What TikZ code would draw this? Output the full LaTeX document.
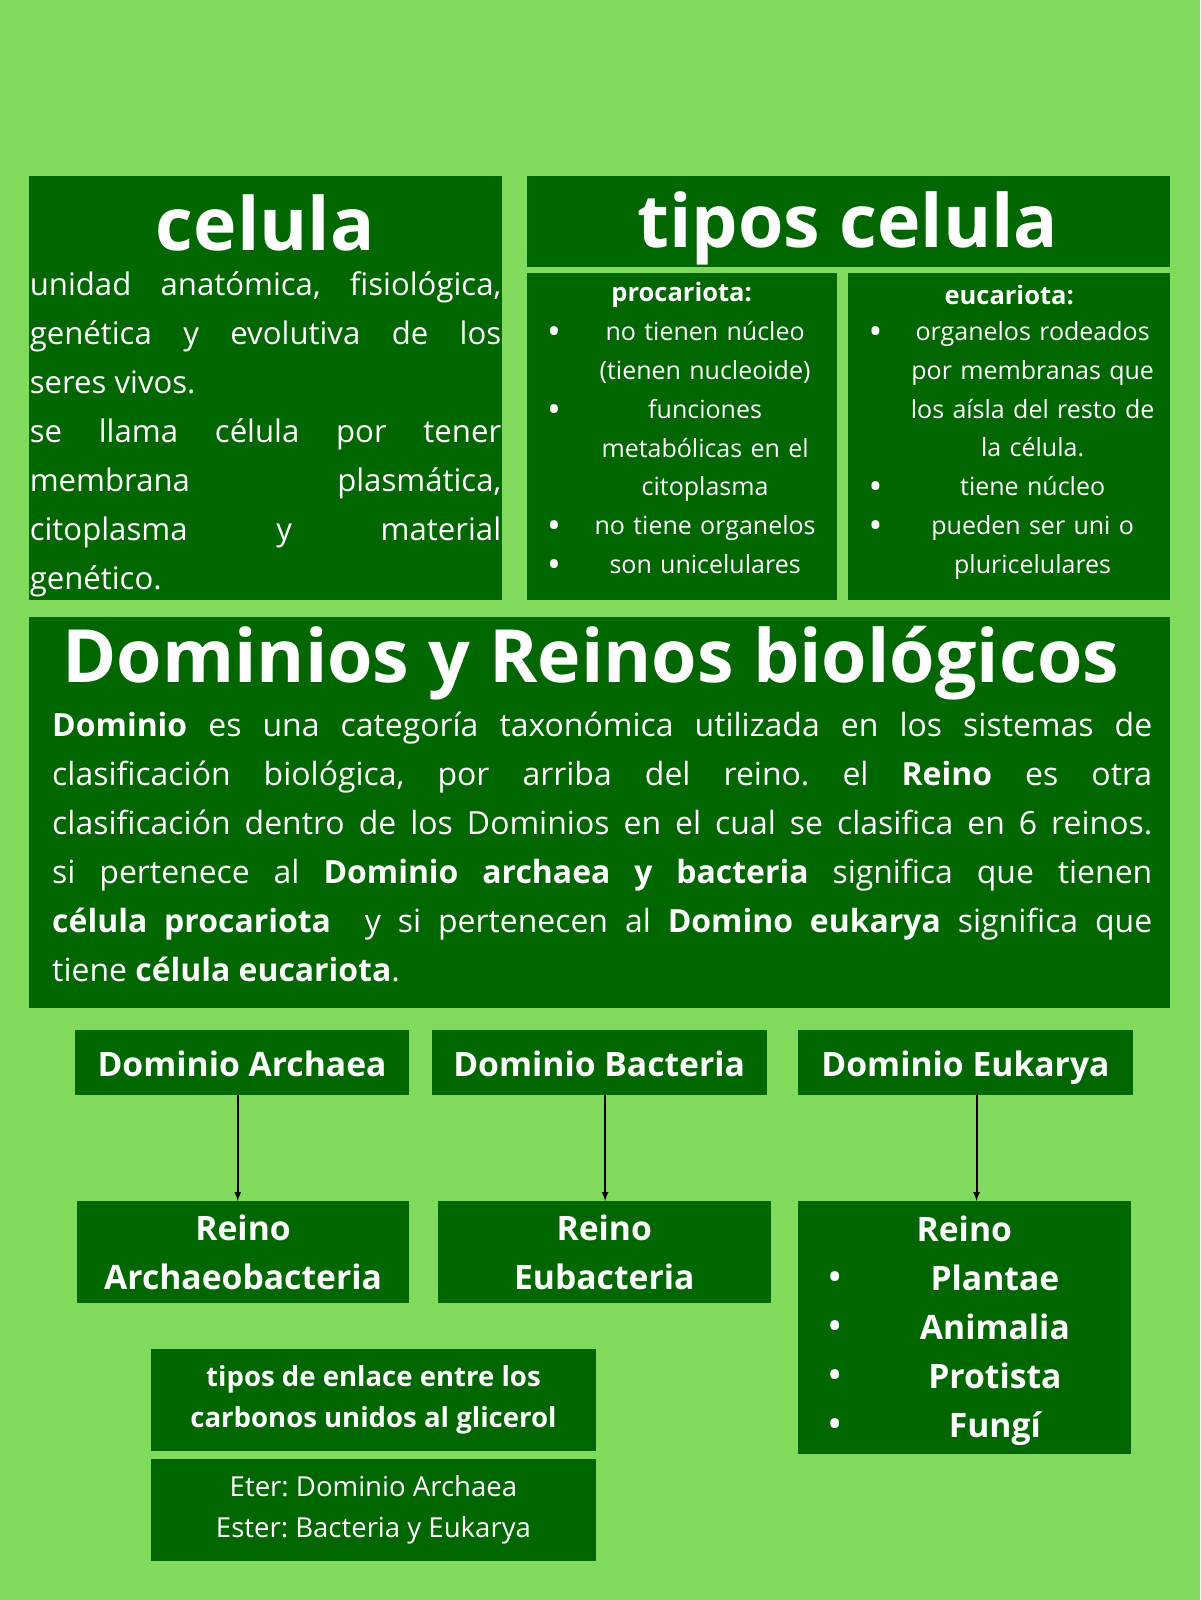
\documentclass[tikz,border=0pt]{standalone}
\usepackage{fontspec}
\setmainfont{Open Sans}
\definecolor{bg}{RGB}{128,218,92}
\definecolor{dg}{RGB}{0,102,0}
\newcommand{\jl}[2]{\makebox[#1][s]{#2}}
\frenchspacing
\begin{document}
\begin{tikzpicture}[x=1pt,y=-1pt,
  box/.style={fill=dg,draw=none},
  wt/.style={text=white,inner sep=0pt},
  arr/.style={-latex,line width=2pt,black}]
\fill[bg] (0,0) rectangle (1176,1568);
\useasboundingbox (0,0) rectangle (1176,1568);
% boxes
\fill[box] (28,172) rectangle (492,588);
\fill[box] (516,172) rectangle (1147,262);
\fill[box] (516,268) rectangle (820,588);
\fill[box] (831,268) rectangle (1147,588);
\fill[box] (28,605) rectangle (1147,988);
\node[box,minimum width=328,minimum height=64,anchor=north west] (da) at (73,1009) {};
\node[box,minimum width=328,minimum height=64,anchor=north west] (db) at (423,1009) {};
\node[box,minimum width=328,minimum height=64,anchor=north west] (de) at (782,1009) {};
\node[box,minimum width=326,minimum height=100,anchor=north west] (ra) at (75,1177) {};
\node[box,minimum width=326,minimum height=100,anchor=north west] (rb) at (429,1177) {};
\node[box,minimum width=326,minimum height=248,anchor=north west] (re) at (782,1177) {};
\fill[box] (148,1322) rectangle (584,1422);
\fill[box] (148,1430) rectangle (584,1530);
% titles
\node[wt,font=\fontsize{72}{74}\selectfont\bfseries] (t1) at (260,218) {celula};
\node[wt,font=\fontsize{72}{74}\selectfont\bfseries] (t2) at (831,224) {tipos celula};
\node[wt,font=\fontsize{72}{74}\selectfont\bfseries] (t3) at (579,650) {Dominios y Reinos biológicos};
% celula text
\node[wt,anchor=north west,align=left,font=\fontsize{30.5}{48}\selectfont] (ct) at (29,266)
{\jl{462pt}{unidad anatómica, fisiológica,}\\\jl{462pt}{genética y evolutiva de los}\\seres vivos.\\
\jl{462pt}{se llama célula por tener}\\\jl{462pt}{membrana plasmática,}\\\jl{462pt}{citoplasma y material}\\genético.};
% procariota
\node[wt,font=\fontsize{25}{38}\selectfont\bfseries] (ph) at (668,289) {procariota:};
\node[wt,anchor=north,align=center,text width=240pt,font=\fontsize{24.5}{38}\selectfont] (pl) at (691,315)
{no tienen núcleo\\(tienen nucleoide)\\funciones\\metabólicas en el\\citoplasma\\no tiene organelos\\son unicelulares};
\foreach \yy in {329,405,519,557} \node[wt,font=\fontsize{36}{38}\selectfont] at (543,\yy) {•};
% eucariota
\node[wt,font=\fontsize{25}{38}\selectfont\bfseries] (eh) at (989,289) {eucariota:};
\node[wt,anchor=north,align=center,text width=260pt,font=\fontsize{24.5}{38}\selectfont] (el) at (1012,315)
{organelos rodeados\\por membranas que\\los aísla del resto de\\la célula.\\tiene núcleo\\pueden ser uni o\\pluricelulares};
\foreach \yy in {329,481,519} \node[wt,font=\fontsize{36}{38}\selectfont] at (858,\yy) {•};
% dominios paragraph
\node[wt,anchor=north west,align=left,font=\fontsize{31.3}{48}\selectfont] (dp) at (51,698)
{\jl{1078pt}{\textbf{Dominio} es una categoría taxonómica utilizada en los sistemas de}\\
\jl{1078pt}{clasificación biológica, por arriba del reino. el \textbf{Reino} es otra}\\
\jl{1078pt}{clasificación dentro de los Dominios en el cual se clasifica en 6 reinos.}\\
\jl{1078pt}{si pertenece al \textbf{Dominio archaea y bacteria} significa que tienen}\\
\jl{1078pt}{\textbf{célula procariota}\ \ y si pertenecen al \textbf{Domino eukarya} significa que}\\
tiene \textbf{célula eucariota}.};
% domain labels
\node[wt,font=\fontsize{33}{40}\selectfont\bfseries] at ([yshift=-5pt]da.center) {\vphantom{Ag}Dominio Archaea};
\node[wt,font=\fontsize{33}{40}\selectfont\bfseries] at ([yshift=-5pt]db.center) {\vphantom{Ag}Dominio Bacteria};
\node[wt,font=\fontsize{33}{40}\selectfont\bfseries] at ([yshift=-5pt]de.center) {\vphantom{Ag}Dominio Eukarya};
\node[wt,align=center,font=\fontsize{33}{48}\selectfont\bfseries] at (ra) {Reino\\Archaeobacteria};
\node[wt,align=center,font=\fontsize{33}{48}\selectfont\bfseries] at (rb) {Reino\\Eubacteria};
\node[wt,anchor=north,align=center,font=\fontsize{33}{48}\selectfont\bfseries] at (945,1191) {Reino};
\node[wt,anchor=north,align=center,font=\fontsize{33}{48}\selectfont\bfseries] at (975,1239) {Plantae\\Animalia\\Protista\\Fungí};
\foreach \yy in {1256,1304,1352,1400} \node[wt,font=\fontsize{40}{48}\selectfont] at (818,\yy) {•};
% bottom boxes
\node[wt,align=center,font=\fontsize{27}{40}\selectfont\bfseries] at (366,1372) {tipos de enlace entre los\\carbonos unidos al glicerol};
\node[wt,align=center,font=\fontsize{27}{40}\selectfont] at (366,1480) {Eter: Dominio Archaea\\Ester: Bacteria y Eukarya};
% arrows
\draw[arr] (da.south -| 233,0) -- (ra.north -| 233,0);
\draw[arr] (db.south -| 593,0) -- (rb.north -| 593,0);
\draw[arr] (de.south -| 957,0) -- (re.north -| 957,0);
\end{tikzpicture}
\end{document}
